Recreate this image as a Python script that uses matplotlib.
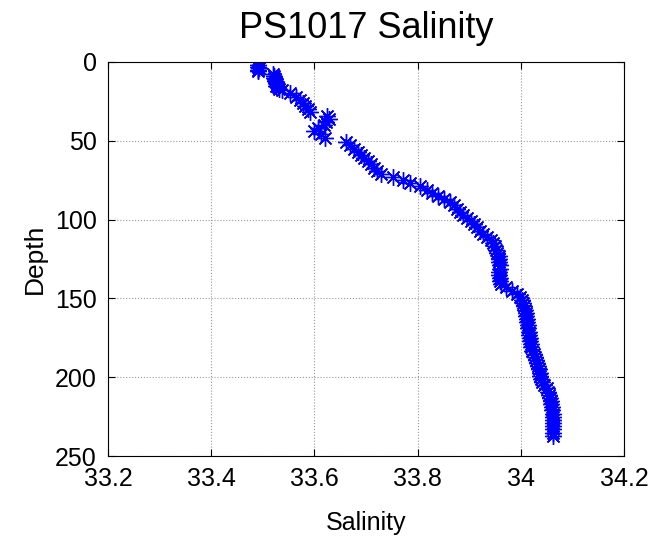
import matplotlib
matplotlib.use("Agg")
import matplotlib.pyplot as plt

plt.rcParams['font.family'] = ['Liberation Sans', 'DejaVu Sans']

# depth (m) and salinity
depth = [2, 3, 4, 5, 6, 8, 9, 10, 11, 12, 13, 14, 15, 16, 17, 18, 20, 22, 24, 26,
         28, 30, 32, 34, 36, 38, 40, 42, 44, 46, 48, 51, 53, 55, 57, 59, 61, 63, 65, 67,
         69, 71, 73, 75, 77, 79, 81, 83, 85, 87, 89, 91, 93, 95, 97, 99, 101, 103, 105, 107,
         109, 111, 113, 115, 117, 119, 121, 123, 125, 127, 129, 131, 133, 135, 137, 139, 141, 143, 145, 147,
         149, 151, 153, 155, 157, 159, 161, 163, 165, 167, 169, 171, 173, 175, 177, 179, 181, 183, 185, 187,
         189, 191, 193, 195, 197, 199, 201, 203, 205, 207, 209, 211, 213, 215, 217, 219, 221, 223, 225, 227,
         229, 231, 233, 235, 237]
salinity = [33.490, 33.491, 33.492, 33.490, 33.491, 33.520, 33.522, 33.521, 33.524, 33.523,
            33.525, 33.527, 33.526, 33.530, 33.532, 33.538, 33.553, 33.565, 33.572, 33.578,
            33.582, 33.588, 33.592, 33.625, 33.628, 33.622, 33.618, 33.608, 33.600, 33.612,
            33.620, 33.662, 33.670, 33.677, 33.684, 33.690, 33.697, 33.704, 33.710, 33.716,
            33.722, 33.730, 33.752, 33.772, 33.786, 33.805, 33.818, 33.828, 33.840, 33.852,
            33.862, 33.870, 33.876, 33.883, 33.889, 33.896, 33.903, 33.909, 33.916, 33.922,
            33.927, 33.934, 33.942, 33.947, 33.950, 33.953, 33.955, 33.957, 33.958, 33.958,
            33.959, 33.959, 33.958, 33.958, 33.959, 33.960, 33.962, 33.972, 33.983, 33.992,
            33.998, 34.002, 34.005, 34.007, 34.008, 34.010, 34.011, 34.012, 34.013, 34.014,
            34.015, 34.016, 34.017, 34.018, 34.018, 34.019, 34.020, 34.022, 34.025, 34.028,
            34.030, 34.032, 34.034, 34.036, 34.037, 34.038, 34.039, 34.042, 34.046, 34.050,
            34.053, 34.055, 34.057, 34.058, 34.059, 34.060, 34.061, 34.062, 34.062, 34.062,
            34.063, 34.063, 34.063, 34.062, 34.062]

xticks = [33.2, 33.4, 33.6, 33.8, 34.0, 34.2]
xticklabels = ['33.2', '33.4', '33.6', '33.8', '34', '34.2']
yticks = [0, 50, 100, 150, 200, 250]

fig = plt.figure(figsize=(6.54, 5.38), dpi=100)
ax = fig.add_axes([0.165, 0.152, 0.789, 0.733])

ax.plot(salinity, depth, linestyle='none', marker=(8, 2, 0), markersize=12,
        markeredgewidth=1.0, color='blue')

ax.set_xlim(33.2, 34.2)
ax.set_ylim(250, 0)
ax.set_xticks(xticks)
ax.set_xticklabels(xticklabels)
ax.set_yticks(yticks)
ax.grid(True, linestyle=':', color='#999999', linewidth=0.8)
ax.tick_params(direction='in', top=True, right=True, labelsize=18, length=5)
ax.tick_params(axis='x', pad=8)
ax.tick_params(axis='y', pad=8)

ax.set_xlabel('Salinity', fontsize=18, labelpad=14)
ax.set_ylabel('Depth', fontsize=19, labelpad=6)
ax.set_title('PS1017 Salinity', fontsize=26, pad=17)

fig.savefig('out.png', dpi=100)
